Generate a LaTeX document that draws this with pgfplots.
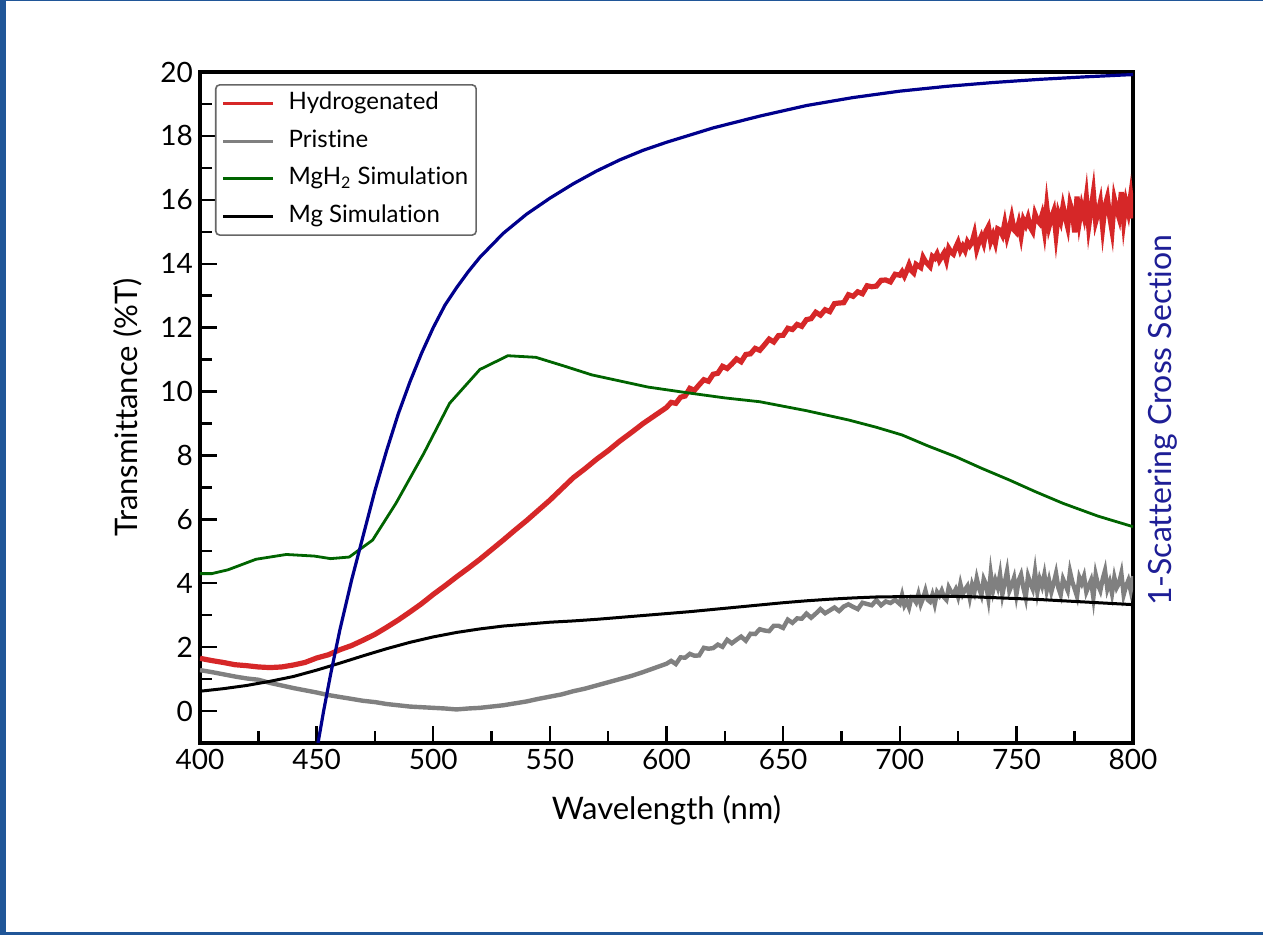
\documentclass[border=0pt]{standalone}
\usepackage{fontspec}
\setmainfont{Lato}[Ligatures=NoCommon]
\usepackage{pgfplots}
\pgfplotsset{compat=1.18}

\definecolor{hydro}{RGB}{214,39,40}
\definecolor{prist}{RGB}{128,128,128}
\definecolor{mgh}{RGB}{0,100,0}
\definecolor{scat}{RGB}{0,0,140}
\definecolor{scatlabel}{RGB}{30,30,150}
\definecolor{framecol}{RGB}{32,86,152}

\begin{document}
\begin{tikzpicture}
% page frame, 0.5pt per pixel of the 1263x935 reference
\fill[framecol] (-100pt,-96pt) rectangle (531.5pt,371.5pt);
\fill[white] (-97pt,-94.5pt) rectangle (531.5pt,370.8pt);

\begin{axis}[
  at={(0,0)}, anchor=south west,
  scale only axis, width=466.5pt, height=335.5pt,
  xmin=400, xmax=800, ymin=-1, ymax=20,
  xtick={400,450,...,800}, ytick={0,2,...,20},
  minor x tick num=1, minor y tick num=1,
  tick align=inside, xtick pos=left, ytick pos=left,
  major tick length=8.5pt, minor tick length=6pt,
  every tick/.style={black, line width=1.2pt},
  axis line style={line width=1.8pt},
  tick label style={font=\fontsize{14}{16}\selectfont},
  xticklabel style={inner sep=3pt},
  /pgf/number format/assume math mode=true,
  /pgf/number format/1000 sep={},
  xlabel={Wavelength (nm)}, ylabel={Transmittance (\%T)},
  label style={font=\fontsize{15.5}{18}\selectfont},
  xlabel style={at={(rel axis cs:0.5,-0.1)}, anchor=center},
  ylabel style={at={(rel axis cs:-0.077,0.5)}, anchor=center},
  legend style={at={(rel axis cs:0.016,0.982)}, anchor=north west,
    draw=black!60, rounded corners=2pt, line width=0.8pt,
    font=\fontsize{12}{14}\selectfont,
    inner xsep=3pt, inner ysep=2.5pt, row sep=4.7pt, column sep=6pt,
    nodes={inner sep=1pt, text height=9pt, text depth=3pt}},
  legend cell align=left,
  legend image code/.code={\draw[#1, line width=1.5pt] (0pt,0pt) -- (25pt,0pt);},
]
\addplot[hydro, line width=2.6pt] coordinates {
(400,1.65) (405,1.58) (410,1.52) (415,1.45) (420,1.42) (425,1.38) (430,1.36)
(435,1.38) (440,1.44) (445,1.52) (450,1.66) (455,1.76) (460,1.92) (465,2.05)
(470,2.22) (475,2.40) (480,2.62) (485,2.85) (490,3.10) (495,3.36) (500,3.65)
(505,3.92) (510,4.20) (515,4.47) (520,4.75) (525,5.05) (530,5.35) (535,5.66)
(540,5.96) (545,6.28) (550,6.60) (555,6.95) (560,7.30) (565,7.58) (570,7.88)
(575,8.15) (580,8.45) (585,8.72) (590,9.00) (595,9.25) (600,9.50)
(602,9.66) (604,9.63) (606,9.82) (608,9.86) (610,10.10) (612,10.04) (614,10.21)
(616,10.37) (618,10.32) (620,10.54) (622,10.57) (624,10.79) (626,10.72)
(628,10.86) (630,11.02) (632,10.93) (634,11.16) (636,11.18) (638,11.35)
(640,11.29) (642,11.46) (644,11.64) (646,11.55) (648,11.75) (650,11.76)
(652,11.98) (654,11.94) (656,12.10) (658,12.04) (660,12.25) (662,12.28)
(664,12.48) (666,12.39) (668,12.56) (670,12.50) (672,12.75) (674,12.77)
(676,12.78) (678,13.03) (680,12.98) (682,13.12) (684,13.06) (686,13.31)
(688,13.28) (690,13.30) (692,13.48) (694,13.49) (696,13.43) (698,13.67)
(700,13.64)
(701,13.75) (702,13.61) (703,13.78) (704,13.97) (705,13.78) (706,13.71)
(707,13.98) (708,13.93) (709,13.88) (710,14.20) (711,14.07) (712,13.99)
(713,13.91) (714,14.23) (715,14.17) (716,14.31) (717,14.10) (718,14.22)
(719,14.34) (720,14.10) (721,14.48) (722,14.36) (723,14.30) (724,14.51)
(725,14.67) (726,14.41) (727,14.55) (728,14.41) (729,14.68) (730,14.56)
(731,14.67) (732,14.94) (733,14.45) (734,14.69) (735,14.86) (736,14.64)
(737,15.02) (738,15.16) (739,14.70) (740,14.90) (741,14.65) (742,15.09)
(743,15.05) (744,14.90) (745,15.27) (746,14.84) (747,15.11) (748,15.45)
(749,15.06) (750,14.98) (751,15.27) (752,14.87) (753,15.37) (754,15.21)
(755,15.44) (756,15.14) (757,15.01) (758,15.55) (759,15.36) (760,15.27)
(761,15.52) (762,15.03) (763,15.80) (764,15.16) (765,15.43) (766,15.64)
(767,14.91) (768,15.57) (769,15.34) (770,15.80) (771,15.46) (772,15.15)
(773,15.87) (774,15.62) (775,14.98) (776,16.10) (777,15.33) (778,15.79)
(779,15.48) (780,16.07) (781,15.17) (782,15.69) (783,16.22) (784,15.32)
(785,15.59) (786,15.92) (787,15.14) (788,15.80) (789,16.07) (790,15.49)
(791,15.04) (792,16.02) (793,15.70) (794,15.45) (795,16.24) (796,15.33)
(797,15.92) (798,15.60) (799,16.13) (800,15.42)
};
\addlegendentry{Hydrogenated}
\addplot[prist, line width=2.2pt] coordinates {
(400,1.28) (405,1.22) (410,1.15) (415,1.08) (420,1.02) (425,0.98) (430,0.88)
(435,0.80) (440,0.72) (445,0.65) (450,0.58) (455,0.50) (460,0.44) (465,0.38)
(470,0.32) (475,0.28) (480,0.22) (485,0.18) (490,0.14) (495,0.12) (500,0.10)
(505,0.08) (510,0.05) (515,0.08) (520,0.10) (525,0.14) (530,0.18) (535,0.24)
(540,0.30) (545,0.38) (550,0.45) (555,0.52) (560,0.62) (565,0.70) (570,0.80)
(575,0.90) (580,1.00) (585,1.10) (590,1.22) (595,1.35) (600,1.48)
(602,1.57) (604,1.47) (606,1.68) (608,1.67) (610,1.79) (612,1.73) (614,1.74)
(616,1.98) (618,1.95) (620,1.97) (622,2.08) (624,2.01) (626,2.23) (628,2.12)
(630,2.23) (632,2.33) (634,2.20) (636,2.42) (638,2.41) (640,2.56) (642,2.52)
(644,2.50) (646,2.67) (648,2.67) (650,2.60) (652,2.86) (654,2.76) (656,2.90)
(658,2.89) (660,3.05) (662,2.92) (664,3.05) (666,3.19) (668,3.06) (670,3.15)
(672,3.24) (674,3.13) (676,3.27) (678,3.34) (680,3.26) (682,3.19) (684,3.39)
(686,3.35) (688,3.31) (690,3.47) (692,3.31) (694,3.43) (696,3.38) (698,3.48)
(700,3.35)
(701,3.63) (702,3.30) (703,3.43) (704,3.24) (705,3.55) (706,3.51) (707,3.40)
(708,3.66) (709,3.34) (710,3.53) (711,3.77) (712,3.48) (713,3.42) (714,3.64)
(715,3.35) (716,3.72) (717,3.61) (718,3.77) (719,3.56) (720,3.48) (721,3.87)
(722,3.73) (723,3.67) (724,3.81) (725,3.58) (726,3.97) (727,3.66) (728,3.80)
(729,3.91) (730,3.55) (731,3.95) (732,3.73) (733,4.15) (734,3.84) (735,3.63)
(736,4.13) (737,3.96) (738,3.52) (739,4.30) (740,3.77) (741,4.09) (742,3.87)
(743,4.28) (744,3.65) (745,4.02) (746,4.38) (747,3.76) (748,3.94) (749,4.17)
(750,3.64) (751,4.09) (752,4.27) (753,3.86) (754,3.55) (755,4.22) (756,4.00)
(757,3.82) (758,4.36) (759,3.73) (760,4.13) (761,3.91) (762,4.27) (763,3.77)
(764,4.09) (765,3.73) (766,4.00) (767,4.31) (768,3.86) (769,3.64) (770,4.13)
(771,3.95) (772,3.77) (773,4.36) (774,4.04) (775,3.82) (776,3.59) (777,4.18)
(778,4.00) (779,4.22) (780,3.73) (781,3.91) (782,4.09) (783,3.55) (784,4.27)
(785,3.95) (786,3.77) (787,4.13) (788,4.40) (789,3.82) (790,4.04) (791,3.68)
(792,4.18) (793,3.86) (794,4.00) (795,4.31) (796,3.64) (797,3.91) (798,4.09)
(799,3.77) (800,4.22)
};
\addlegendentry{Pristine}
\addplot[mgh, line width=1.4pt] coordinates {
(400,4.30) (405,4.30) (412,4.42) (424,4.75) (437,4.90) (449,4.85) (456,4.77)
(464,4.82) (474,5.35) (484,6.50) (496,8.07) (507,9.63) (520,10.69) (532,11.12)
(544,11.07) (556,10.80) (568,10.52) (580,10.33) (592,10.14) (609,9.96)
(625,9.80) (640,9.68) (660,9.40) (678,9.11) (690,8.88) (701,8.64) (712,8.30)
(724,7.96) (735,7.60) (747,7.23) (758,6.87) (770,6.50) (785,6.10) (800,5.77)
};
\addlegendentry{MgH\textsubscript{2} Simulation}
\addplot[black, line width=1.5pt] coordinates {
(400,0.62) (410,0.70) (420,0.80) (430,0.93) (440,1.08) (450,1.28) (460,1.50)
(470,1.73) (480,1.95) (490,2.15) (500,2.32) (510,2.46) (520,2.57) (530,2.66)
(540,2.72) (550,2.78) (560,2.82) (570,2.87) (580,2.93) (590,2.99) (600,3.05)
(610,3.11) (620,3.18) (630,3.25) (640,3.32) (650,3.39) (660,3.45) (670,3.50)
(680,3.54) (690,3.57) (700,3.58) (710,3.59) (720,3.59) (730,3.58) (740,3.55)
(750,3.52) (760,3.49) (770,3.45) (780,3.41) (790,3.37) (800,3.33)
};
\addlegendentry{Mg Simulation}
\end{axis}

\begin{axis}[
  at={(0,0)}, anchor=south west,
  scale only axis, width=466.5pt, height=335.5pt,
  xmin=400, xmax=800, ymin=-1, ymax=20,
  hide x axis, axis y line*=right, ytick=\empty,
  y axis line style={draw=none},
  ylabel={1-Scattering Cross Section},
  ylabel style={at={(rel axis cs:1.032,0.481)}, anchor=center,
    font=\fontsize{16}{19}\selectfont, text=scatlabel},
]
\addplot[scat, line width=1.6pt] coordinates {
(450.6,-1.0) (453,0.0) (456,1.15) (460,2.55) (465,4.1) (470,5.5) (475,6.9)
(480,8.15) (485,9.3) (490,10.3) (495,11.2) (500,12.0) (505,12.7) (510,13.25)
(515,13.75) (520,14.2) (530,14.95) (540,15.55) (550,16.05) (560,16.5)
(570,16.9) (580,17.25) (590,17.55) (600,17.8) (620,18.25) (640,18.62)
(660,18.95) (680,19.2) (700,19.4) (720,19.55) (740,19.67) (760,19.77)
(780,19.85) (800,19.92)
};
\end{axis}
\end{tikzpicture}
\end{document}
